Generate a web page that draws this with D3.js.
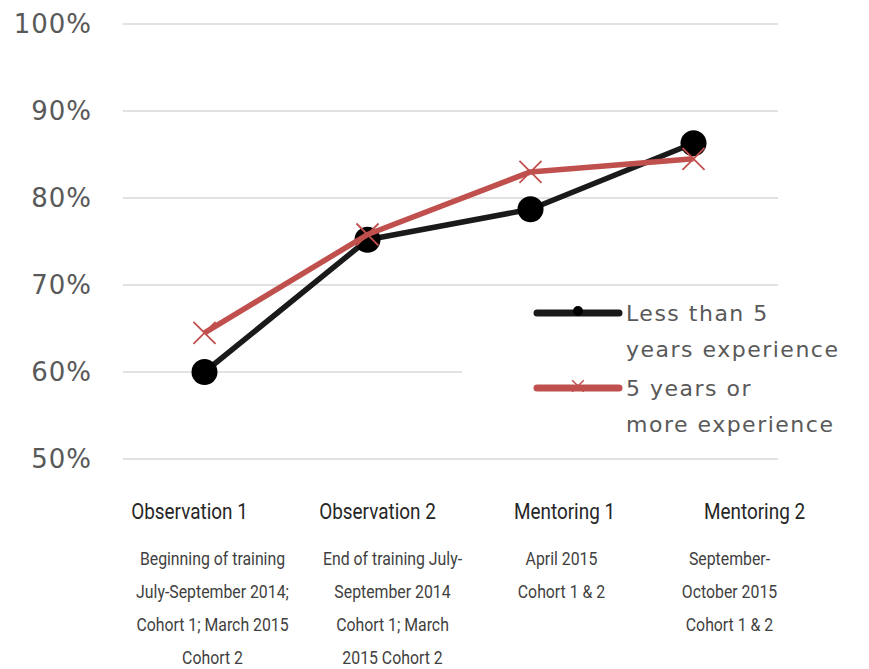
<!DOCTYPE html>
<html>
<head>
<meta charset="utf-8">
<script src="https://cdn.jsdelivr.net/npm/d3@7"></script>
<style>
  body { margin: 0; background: #fff; }
</style>
</head>
<body>
<script>
// categories and values
var categories = ["Observation 1", "Observation 2", "Mentoring 1", "Mentoring 2"];
var subLabels = [
  ["Beginning of training", "July-September 2014;", "Cohort 1; March 2015", "Cohort 2"],
  ["End of training July-", "September 2014", "Cohort 1; March", "2015 Cohort 2"],
  ["April 2015", "Cohort 1 & 2"],
  ["September-", "October 2015", "Cohort 1 & 2"]
];
var lessThan5 = [0.600, 0.752, 0.787, 0.863];
var fiveOrMore = [0.645, 0.758, 0.830, 0.845];
var yTicks = [0.5, 0.6, 0.7, 0.8, 0.9, 1.0];

var w = 869, h = 669;

var svg = d3.select("body").append("svg")
  .attr("width", w)
  .attr("height", h);

var x = d3.scalePoint().domain(categories).range([123, 775]).padding(0.5);
var y = d3.scaleLinear().domain([0.5, 1.0]).range([459, 24]);

// gridlines
svg.append("g")
  .selectAll("line")
  .data(yTicks)
  .enter()
  .append("line")
  .attr("x1", 123)
  .attr("x2", 778)
  .attr("y1", function(d) { return y(d); })
  .attr("y2", function(d) { return y(d); })
  .attr("stroke", "#d9d9d9")
  .attr("stroke-width", 1.3);

// y axis labels
var yAxis = d3.axisLeft(y).tickValues(yTicks).tickFormat(d3.format(".0%")).tickSize(0).tickPadding(0);
var yg = svg.append("g").attr("transform", "translate(92,0)").call(yAxis);
yg.select(".domain").remove();
yg.selectAll("text")
  .attr("font-family", "'DejaVu Sans', sans-serif")
  .attr("font-size", "26px")
  .attr("letter-spacing", "1px")
  .attr("fill", "#595959");

// x labels, narrow like the original
var xg = svg.append("g");
var titleOffset = [-15, 10, 34, 61];
var subOffset = [8, 25, 31, 36];
function narrowText(g, tx, ty, str, size, color, sx) {
  g.append("text")
    .attr("transform", "translate(" + tx + "," + ty + ") scale(" + sx + ",1)")
    .attr("text-anchor", "middle")
    .attr("font-family", "Roboto, sans-serif")
    .attr("font-size", size)
    .attr("fill", color)
    .text(str);
}
categories.forEach(function(c, i) {
  narrowText(xg, x(c) + titleOffset[i], 519, c, "22px", "#262626", 0.86);
  subLabels[i].forEach(function(s, j) {
    narrowText(xg, x(c) + subOffset[i], 565 + j * 33, s, "18px", "#3f3f3f", 0.88);
  });
});

// legend background covers part of the grid
svg.append("rect")
  .attr("x", 462).attr("y", 292)
  .attr("width", 400).attr("height", 150)
  .attr("fill", "#fff");

var line = d3.line()
  .x(function(d, i) { return x(categories[i]); })
  .y(function(d) { return y(d); });

// black series
svg.append("path")
  .datum(lessThan5)
  .attr("d", line)
  .attr("fill", "none")
  .attr("stroke", "#1a1a1a")
  .attr("stroke-width", 5.5)
  .attr("stroke-linejoin", "round");

svg.selectAll(".dot")
  .data(lessThan5)
  .enter()
  .append("circle")
  .attr("class", "dot")
  .attr("cx", function(d, i) { return x(categories[i]); })
  .attr("cy", function(d) { return y(d); })
  .attr("r", 13)
  .attr("fill", "#000");

// red series
svg.append("path")
  .datum(fiveOrMore)
  .attr("d", line)
  .attr("fill", "none")
  .attr("stroke", "#c0504d")
  .attr("stroke-width", 5.5)
  .attr("stroke-linejoin", "round");

var cross = d3.symbol().type(d3.symbolX).size(320);
svg.selectAll(".cross")
  .data(fiveOrMore)
  .enter()
  .append("path")
  .attr("class", "cross")
  .attr("d", cross)
  .attr("transform", function(d, i) { return "translate(" + x(categories[i]) + "," + y(d) + ")"; })
  .attr("fill", "none")
  .attr("stroke", "#c0504d")
  .attr("stroke-width", 1.8);

// legend
var legend = [
  { name: ["Less than 5", "years experience"], color: "#1a1a1a", y: 313, marker: "dot" },
  { name: ["5 years or", "more experience"], color: "#c0504d", y: 388, marker: "cross" }
];
legend.forEach(function(l) {
  svg.append("line")
    .attr("x1", 537).attr("x2", 619)
    .attr("y1", l.y).attr("y2", l.y)
    .attr("stroke", l.color)
    .attr("stroke-width", 7)
    .attr("stroke-linecap", "round");
  if (l.marker == "dot") {
    svg.append("circle").attr("cx", 578).attr("cy", l.y - 2).attr("r", 5).attr("fill", "#000");
  } else {
    svg.append("path")
      .attr("d", d3.symbol().type(d3.symbolX).size(90))
      .attr("transform", "translate(578," + (l.y - 2) + ")")
      .attr("fill", "none")
      .attr("stroke", l.color)
      .attr("stroke-width", 1.5);
  }
  l.name.forEach(function(t, j) {
    svg.append("text")
      .attr("x", 626)
      .attr("y", l.y + 8 + j * 36)
      .attr("font-family", "'DejaVu Sans', sans-serif")
      .attr("font-size", "22px")
      .attr("letter-spacing", "1.5px")
      .attr("fill", "#595959")
      .text(t);
  });
});
</script>
</body>
</html>
